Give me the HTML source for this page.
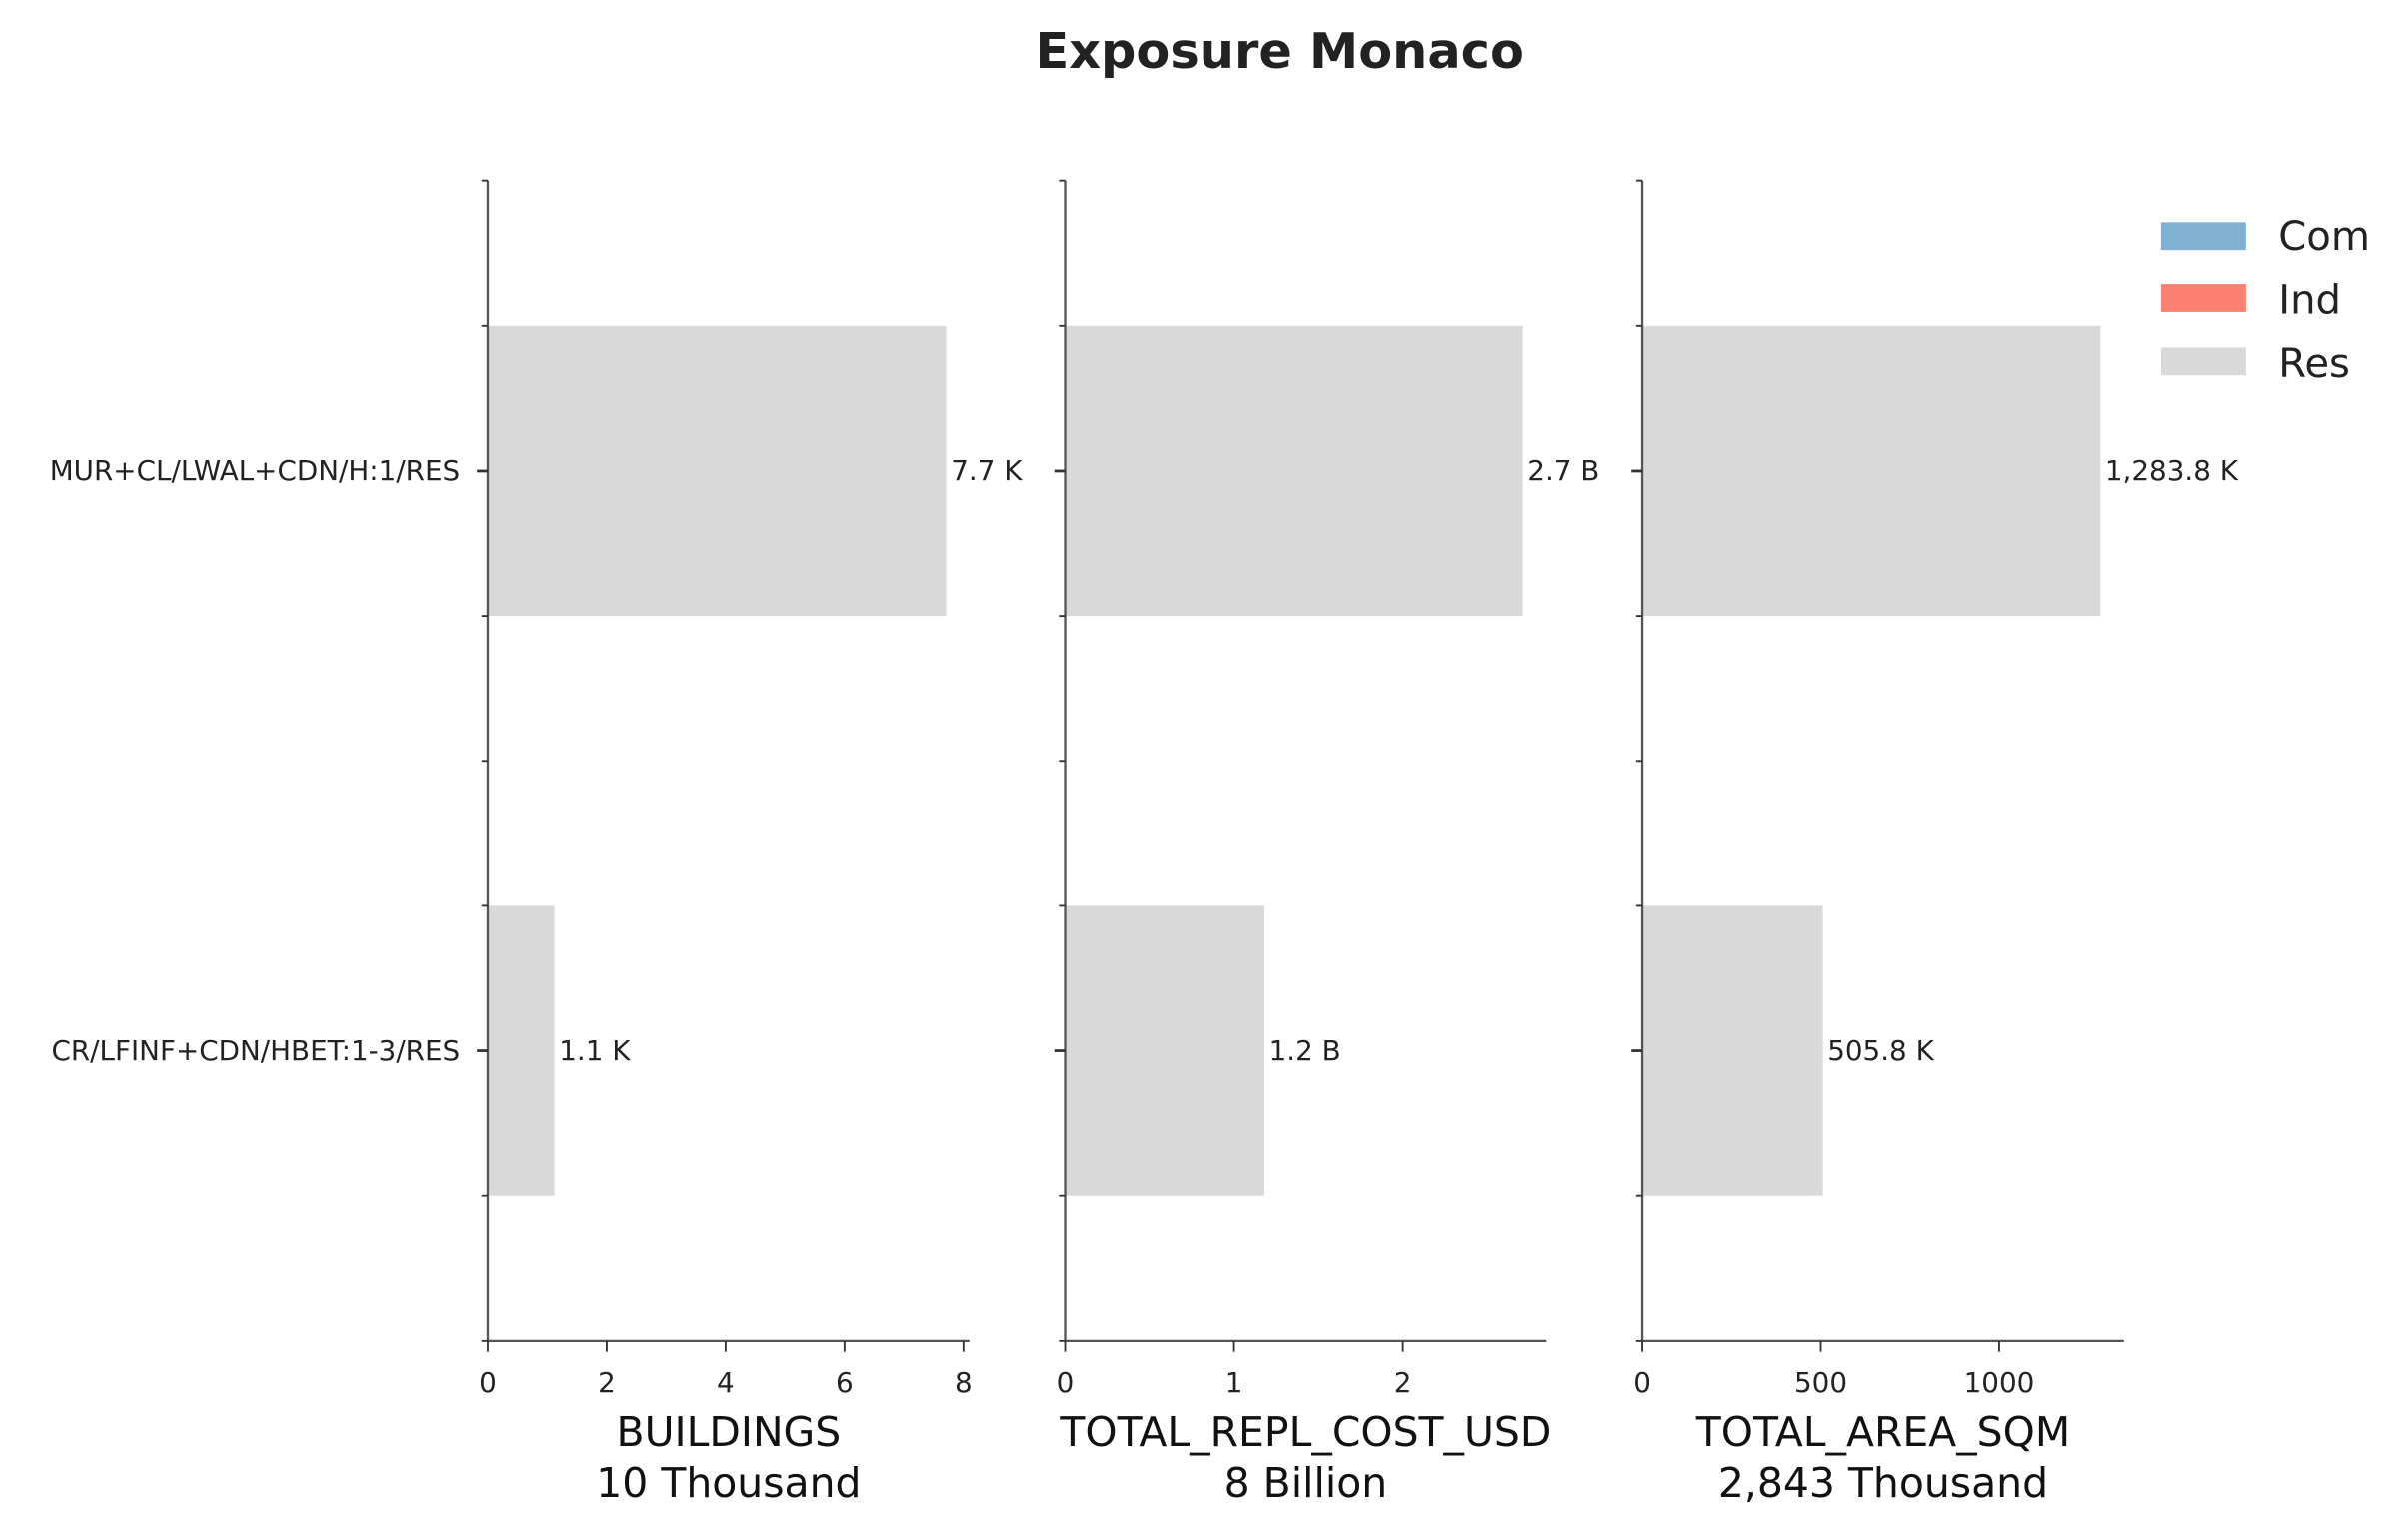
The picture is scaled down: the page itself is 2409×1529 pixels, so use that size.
<!DOCTYPE html>
<html><head><meta charset="utf-8"><style>
html,body{margin:0;padding:0;background:#fff;}
svg{display:block;font-family:"DejaVu Sans","Liberation Sans",sans-serif;}
</style></head><body>
<svg id="chart" width="2409" height="1529" viewBox="0 0 1560 990.2" preserveAspectRatio="none" xmlns="http://www.w3.org/2000/svg">
<text x="829" y="44" text-anchor="middle" font-size="32" font-weight="bold" fill="#222">Exposure Monaco</text>
<g id="panels"></g>
<g>
<rect x="1400" y="144" width="55" height="18" fill="#80b1d3"/>
<text x="1476" y="162" font-size="26" fill="#222">Com</text>
<rect x="1400" y="184" width="55" height="18" fill="#fb8072"/>
<text x="1476" y="203" font-size="26" fill="#222">Ind</text>
<rect x="1400" y="225" width="55" height="18" fill="#d9d9d9"/>
<text x="1476" y="244" font-size="26" fill="#222">Res</text>
</g>
</svg>
<script>
const categories = ["MUR+CL/LWAL+CDN/H:1/RES", "CR/LFINF+CDN/HBET:1-3/RES"];
const buildingsValues = [7.71, 1.12];
const costValues = [2.71, 1.18];
const areaValues = [1283.8, 505.8];
const buildingsLabels = ["7.7 K", "1.1 K"];
const costLabels = ["2.7 B", "1.2 B"];
const areaLabels = ["1,283.8 K", "505.8 K"];
const buildingsTicks = [0, 2, 4, 6, 8];
const costTicks = [0, 1, 2];
const areaTicks = [0, 500, 1000];
const buildingsMax = 8.1;
const costMax = 2.85;
const areaMax = 1350;
const titles = [["BUILDINGS", "10 Thousand"], ["TOTAL_REPL_COST_USD", "8 Billion"], ["TOTAL_AREA_SQM", "2,843 Thousand"]];

const NS = "http://www.w3.org/2000/svg";
const root = document.getElementById("panels");
const top0 = 117, bot0 = 869, W = 312;
function yScale(v) { return top0 + (v + 0.5) / 2 * (bot0 - top0); }
function mk(tag, attrs, parent) {
  const e = document.createElementNS(NS, tag);
  for (const k in attrs) e.setAttribute(k, attrs[k]);
  parent.appendChild(e);
  return e;
}
const panels = [
  {x0: 316, values: buildingsValues, labels: buildingsLabels, ticks: buildingsTicks, max: buildingsMax, name: "buildings"},
  {x0: 690, values: costValues, labels: costLabels, ticks: costTicks, max: costMax, name: "cost"},
  {x0: 1064, values: areaValues, labels: areaLabels, ticks: areaTicks, max: areaMax, name: "area"}
];
panels.forEach((p, pi) => {
  const g = mk("g", {}, root);
  
  
  const xs = v => p.x0 + v / p.max * W;
  p.values.forEach((v, i) => {
    const c = i;
    const r = mk("rect", {x: xs(0), y: yScale(c - 0.25), width: xs(v) - xs(0), height: yScale(c + 0.25) - yScale(c - 0.25), fill: "#d9d9d9"}, g);
    
    
    const t = mk("text", {x: xs(v) + 3, y: yScale(c) + 6, "font-size": 18, fill: "#222"}, g);
    t.textContent = p.labels[i];
    
    
  });
  const ys = mk("line", {x1: p.x0, y1: top0, x2: p.x0, y2: bot0, stroke: "#555", "stroke-width": 1.5}, g);
  
  
  for (let k = 0; k <= 8; k++) {
    const v = -0.5 + k * 0.25;
    const major = (k % 4 === 2);
    mk("line", {x1: p.x0 - (major ? 7 : 4), y1: yScale(v), x2: p.x0, y2: yScale(v), stroke: "#333", "stroke-width": major ? 1.8 : 1.2}, g);
  }
  if (pi === 0) {
    categories.forEach((c, i) => {
      const t = mk("text", {x: p.x0 - 18, y: yScale(i) + 6, "text-anchor": "end", "font-size": 18, fill: "#222"}, g);
      t.textContent = c;
      
      
    });
  }
  const xsp = mk("line", {x1: p.x0, y1: bot0, x2: p.x0 + W, y2: bot0, stroke: "#555", "stroke-width": 1.5}, g);
  
  
  p.ticks.forEach(v => {
    mk("line", {x1: xs(v), y1: bot0, x2: xs(v), y2: bot0 + 7, stroke: "#333", "stroke-width": 1.2}, g);
    const t = mk("text", {x: xs(v), y: bot0 + 33, "text-anchor": "middle", "font-size": 18, fill: "#222"}, g);
    t.textContent = v;
    
    
  });
  titles[pi].forEach((s, j) => {
    const t = mk("text", {x: p.x0 + W / 2, y: 937 + j * 33, "text-anchor": "middle", "font-size": 26.5, fill: "#111"}, g);
    t.textContent = s;
    
    
  });
});
</script>
</body></html>
